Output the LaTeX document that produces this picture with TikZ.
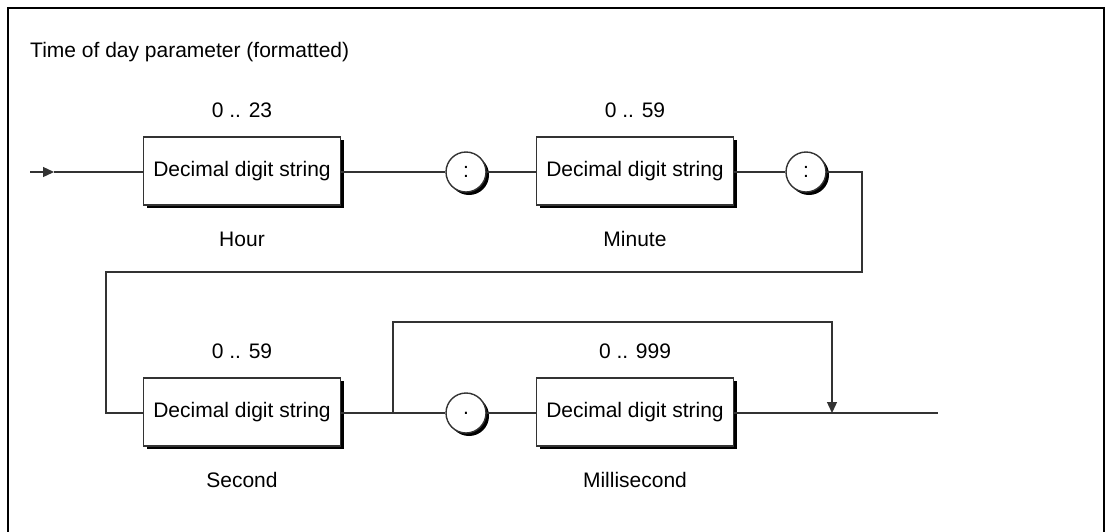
\documentclass[tikz,border=0pt]{standalone}
\usepackage{fontspec}
\setmainfont{Liberation Sans}
\usetikzlibrary{arrows.meta,positioning,shadows}
\definecolor{synline}{RGB}{51,51,51}

\begin{document}
\begin{tikzpicture}[x=1pt, y=-1pt,
  font=\fontsize{21}{25}\selectfont,
  line/.style={draw=synline, line width=1.3pt},
  arrow/.style={line, -{Triangle[length=11pt,width=10pt]}},
  shade/.style={drop shadow={shadow xshift=3pt, shadow yshift=-3pt,
                opacity=1, fill=black}},
  digits/.style={rectangle, draw=synline, line width=1.4pt, fill=white,
                 minimum width=197pt, minimum height=68pt, inner sep=0pt, shade},
  sep/.style={circle, draw=synline, line width=1.4pt, fill=white,
              minimum size=40pt, inner sep=0pt, shade},
  tag/.style={inner sep=0pt, anchor=base}
]
\useasboundingbox (0,0) rectangle (1111,531);

% --- Frame ---
\draw[line width=1.8pt] (8,540) -- (8,8) -- (1104,8) -- (1104,540);
\node[tag, anchor=base west] (title) at (30,57) {Time of day parameter (formatted)};

% --- Row 1 ---
\coordinate (in) at (30,172);
\coordinate (in-tip) at (54,172);
\node[digits] (hour) at (242,171) {Decimal digit string};
\node[sep] (col1) at (466,172) {:};
\node[digits] (minute) at (635,171) {Decimal digit string};
\node[sep] (col2) at (806,172) {:};

\node[tag] (hour-rng) at (242,117) {0 .. 23};
\node[tag] (hour-lbl) at (242,246) {Hour};
\node[tag] (minute-rng) at (635,117) {0 .. 59};
\node[tag] (minute-lbl) at (635,246) {Minute};

% --- Row 2 ---
\node[digits] (second) at (242,412) {Decimal digit string};
\node[sep] (dot) at (466,413) {.};
\node[digits] (milli) at (635,412) {Decimal digit string};
\coordinate (fork) at (393,413);
\coordinate (join) at (832,413);
\coordinate (out) at (938,413);

\node[tag] (second-rng) at (242,358) {0 .. 59};
\node[tag] (second-lbl) at (242,487) {Second};
\node[tag] (milli-rng) at (635,358) {0 .. 999};
\node[tag] (milli-lbl) at (635,487) {Millisecond};

% --- Connectors ---
\draw[arrow] (in) -- (in-tip);
\draw[line] (in-tip) -- (hour.west |- in);
\draw[line] (hour.east |- in) -- (col1);
\draw[line] (col1) -- (minute.west |- in);
\draw[line] (minute.east |- in) -- (col2);
\draw[line] (col2.east) -- (862,172) -- (862,272) -- (106,272)
  -- (106,413) -- (second.west |- fork);
\draw[line] (second.east |- fork) -- (dot);
\draw[line] (dot) -- (milli.west |- fork);
\draw[line] (milli.east |- fork) -- (out);
\draw[arrow] (fork) -- (393,322) -- (832,322) -- (join);

\end{tikzpicture}
\end{document}
